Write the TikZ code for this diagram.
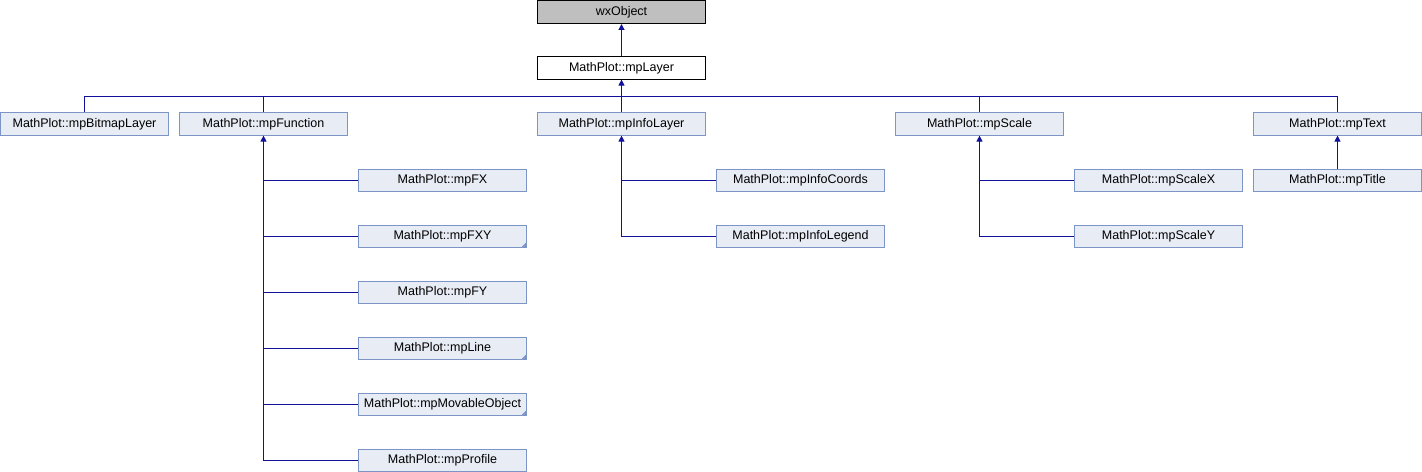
\documentclass[tikz,border=0pt]{standalone}
\usepackage{fontspec}
\setmainfont{Liberation Sans}
\usetikzlibrary{arrows.meta}
\definecolor{boxfill}{HTML}{E8ECF5}
\definecolor{boxline}{HTML}{7C95C6}
\definecolor{edgecol}{HTML}{10109A}
\begin{document}
\begin{tikzpicture}[x=1bp,y=-1bp,
  cls/.style={draw=boxline, fill=boxfill, line width=1bp, minimum width=168.5bp,
    minimum height=22.6bp, inner sep=0pt, text depth=2.6bp, text height=9.1bp,
    font=\fontsize{12.5bp}{14bp}\selectfont},
  rootcls/.style={cls, draw=black, fill=black!25},
  basecls/.style={cls, draw=black, fill=white},
  inh/.style={draw=edgecol, line width=1.1bp, -{Triangle[width=6bp,length=6bp]}},
  link/.style={draw=edgecol, line width=1.1bp},
  corner/.style={fill=boxline}
  ]
\useasboundingbox (0,0) rectangle (1422,472);
% rows
\node[rootcls] (wx) at (621.5,12.2) {wxObject};
\node[basecls] (layer) at (621.5,67.8) {MathPlot::mpLayer};
\node[cls] (bm) at (84.5,123.8) {MathPlot::mpBitmapLayer};
\node[cls] (fn) at (263.5,123.8) {MathPlot::mpFunction};
\node[cls] (il) at (621.5,123.8) {MathPlot::mpInfoLayer};
\node[cls] (sc) at (979.5,123.8) {MathPlot::mpScale};
\node[cls] (tx) at (1337.5,123.8) {MathPlot::mpText};
% function children
\node[cls] (fx) at (442.5,180.5) {MathPlot::mpFX};
\node[cls] (fxy) at (442.5,236.5) {MathPlot::mpFXY};
\node[cls] (fy) at (442.5,292.5) {MathPlot::mpFY};
\node[cls] (line) at (442.5,348.5) {MathPlot::mpLine};
\node[cls] (mov) at (442.5,404.5) {MathPlot::mpMovableObject};
\node[cls] (prof) at (442.5,460.5) {MathPlot::mpProfile};
% info children
\node[cls] (coords) at (800.5,180.5) {MathPlot::mpInfoCoords};
\node[cls] (legend) at (800.5,236.5) {MathPlot::mpInfoLegend};
% scale children
\node[cls] (sx) at (1158.5,180.5) {MathPlot::mpScaleX};
\node[cls] (sy) at (1158.5,236.5) {MathPlot::mpScaleY};
% text child
\node[cls] (title) at (1337.5,180.5) {MathPlot::mpTitle};
% corner marks
\foreach \n in {fxy,line,mov}{
  \fill[corner] ([xshift=-0.5bp,yshift=0.5bp]\n.south east) -- ++(-6,0) -- ++(6,-6) -- cycle;
}
% edges
\draw[inh] (layer.north) -- (wx.south);
\coordinate (bus) at (621.5,96.5);
\draw[inh] (il.north) -- (layer.south);
\foreach \n in {bm,fn,sc,tx}{
  \draw[link] (\n.north) |- (bus);
}
\draw[inh] (prof.west) -| (fn.south);
\foreach \n in {fx,fxy,fy,line,mov}{
  \draw[link] (\n.west) -- (\n.west -| fn.south);
}
\draw[inh] (legend.west) -| (il.south);
\draw[link] (coords.west) -- (coords.west -| il.south);
\draw[inh] (sy.west) -| (sc.south);
\draw[link] (sx.west) -- (sx.west -| sc.south);
\draw[inh] (title.north) -- (tx.south);
\end{tikzpicture}
\end{document}
